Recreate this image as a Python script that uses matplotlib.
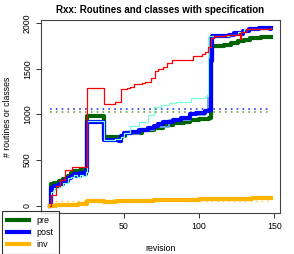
import matplotlib
matplotlib.use("Agg")
import matplotlib.pyplot as plt

plt.rcParams["font.family"] = ["Liberation Sans", "DejaVu Sans"]

TITLE = "Rxx: Routines and classes with specification"

# thick series (revision where the value changes, value from then on)
pre_rev = [1, 2, 4, 7, 10, 13, 15, 17, 19, 21, 23, 25, 26, 37, 49, 51, 57, 62, 70, 76,
           83, 90, 94, 100, 107, 108, 109, 117, 121, 126, 130, 134, 141, 148]
pre_val = [0, 240, 250, 270, 290, 330, 360, 380, 370, 390, 380, 400, 980, 755, 760, 795,
           800, 830, 850, 880, 905, 920, 940, 950, 960, 1580, 1752, 1760, 1778, 1800,
           1815, 1832, 1850, 1850]

post_rev = [1, 2, 4, 7, 10, 13, 15, 17, 19, 21, 23, 25, 26, 37, 47, 48, 50, 55, 60, 66,
            70, 73, 76, 83, 88, 94, 98, 104, 107, 108, 109, 120, 123, 127, 129, 133,
            140, 147, 148]
post_val = [0, 190, 220, 240, 270, 310, 330, 350, 330, 360, 350, 380, 920, 725, 710, 760,
            795, 810, 830, 850, 870, 900, 922, 940, 958, 1000, 1013, 1040, 1050, 1600,
            1860, 1870, 1890, 1880, 1915, 1940, 1945, 1930, 1950]

inv_rev = [1, 5, 10, 15, 20, 25, 26, 37, 45, 60, 70, 80, 100, 110, 125, 135, 148]
inv_val = [0, 5, 10, 12, 15, 20, 55, 45, 48, 55, 62, 68, 72, 75, 78, 82, 85]

# thin series
red_rev = [1, 2, 5, 8, 11, 16, 25, 26, 37, 44, 48, 52, 54, 57, 62, 64, 68, 71, 73, 76,
           79, 82, 94, 96, 102, 104, 106, 108, 110, 118, 126, 127, 128, 131, 136, 148]
red_val = [0, 120, 220, 285, 390, 425, 425, 1290, 1112, 1140, 1275, 1285, 1300, 1330,
           1345, 1360, 1395, 1480, 1500, 1520, 1560, 1596, 1600, 1640, 1660, 1685, 1740,
           1840, 1860, 1870, 1880, 1828, 1900, 1930, 1940, 1950]

aqua_rev = [1, 2, 4, 7, 10, 13, 15, 17, 19, 21, 23, 25, 26, 37, 44, 48, 50, 54, 60, 66,
            70, 75, 80, 85, 95, 104, 105, 106, 120, 126, 130, 140, 148]
aqua_val = [0, 150, 200, 220, 250, 300, 320, 340, 320, 340, 330, 370, 930, 722, 730,
            755, 800, 878, 921, 994, 1085, 1100, 1120, 1140, 1177, 1190, 1200, 1855,
            1870, 1900, 1930, 1940, 1950]

lblue_rev = [1, 2, 4, 7, 10, 13, 15, 17, 19, 21, 23, 25, 26, 37, 47, 48, 50, 60, 70,
             80, 94, 104, 106, 107, 120, 129, 133, 148]
lblue_val = [0, 170, 205, 230, 260, 300, 320, 340, 320, 350, 340, 370, 910, 718, 705,
             750, 785, 825, 865, 935, 990, 1035, 1200, 1850, 1865, 1910, 1935, 1945]

# dotted reference levels
post_level = 1055
pre_level = 1030
inv_level = 55
level_span = [1, 148]

# the 0 tick sits under the legend box in the original, so only these show
x_ticks = [50, 100, 150]
y_ticks = [0, 500, 1000, 1500, 2000]

fig = plt.figure(figsize=(2.94, 2.54), dpi=100)
ax = fig.add_axes([41 / 294, 1 - 213 / 254, 239 / 294, 193 / 254])

ax.plot(level_span, [inv_level] * 2, color="#FFB400", lw=1.0, ls=(0, (1, 3)), alpha=0.8)
ax.plot(level_span, [pre_level] * 2, color="#6E9B5A", lw=1.2, ls=(0, (1, 2.5)))
ax.plot(level_span, [post_level] * 2, color="#2A3CF0", lw=1.2, ls=(0, (1, 2.5)))

ax.plot(pre_rev, pre_val, color="#006400", lw=3.0, drawstyle="steps-post", label="pre")
ax.plot(lblue_rev, lblue_val, color="#6CA6E8", lw=1.3, drawstyle="steps-post")
ax.plot(post_rev, post_val, color="#0000FF", lw=3.0, drawstyle="steps-post", label="post")
ax.plot(inv_rev, inv_val, color="#FFB400", lw=3.0, drawstyle="steps-post", label="inv")
ax.plot(aqua_rev, aqua_val, color="#7FFFD4", lw=0.9, drawstyle="steps-post")
ax.plot(red_rev, red_val, color="#FF0000", lw=0.9, drawstyle="steps-post")

ax.set_xlim(-4.88, 153.88)
ax.set_ylim(-78, 2033)
ax.set_xticks(x_ticks)
ax.set_yticks(y_ticks)
ax.tick_params(labelsize=6.3, length=3.5, width=0.7, color="#333333", pad=3)
for lab in ax.get_yticklabels():
    lab.set_rotation(90)
    lab.set_va("center")
for s in ax.spines.values():
    s.set_linewidth(0.8)
    s.set_color("#444444")

ax.set_title(TITLE, fontsize=7, fontweight="bold", pad=5)
ax.set_xlabel("revision", fontsize=6.3, labelpad=9)
ax.set_ylabel("# routines or classes", fontsize=6.3, labelpad=8)

leg = fig.legend(loc="upper left", bbox_to_anchor=(2 / 294, 1 - 211 / 254),
                 fontsize=6.5, frameon=True, fancybox=False, borderaxespad=0,
                 handlelength=2.4, handletextpad=0.8, labelspacing=0.3,
                 borderpad=0.6)
leg.get_frame().set_edgecolor("black")
leg.get_frame().set_linewidth(0.8)

fig.savefig("out.png", dpi=100)
